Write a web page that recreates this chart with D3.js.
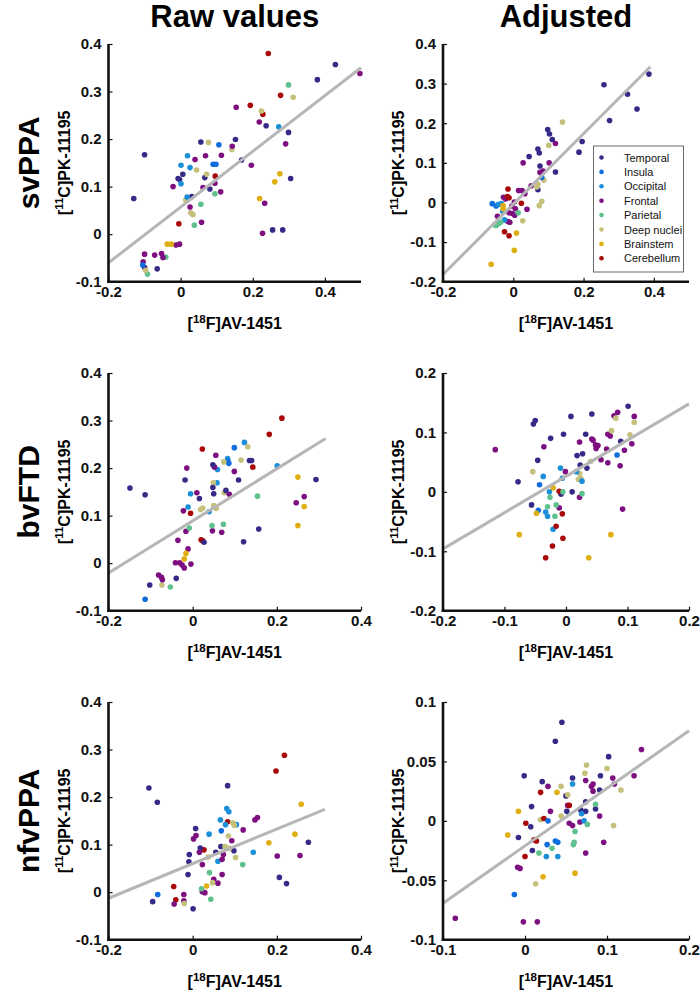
<!DOCTYPE html>
<html><head><meta charset="utf-8">
<script src="https://cdn.jsdelivr.net/npm/d3@7"></script>
<style>
html,body{margin:0;padding:0;background:#fff;}
svg{display:block;font-family:"Liberation Sans",Arial,Helvetica,sans-serif;}
</style></head>
<body>
<svg id="chart" width="700" height="996"></svg>
<script>
// ---------- data ----------
const regions = ["Temporal","Insula","Occipital","Frontal","Parietal","Deep nuclei","Brainstem","Cerebellum"];
const regionColors = ["#352a87","#0f6ddd","#1a8fd8","#7e0f80","#5fc18e","#c5c07a","#dfae10","#a80808"];
const rowLabels = ["svPPA","bvFTD","nfvPPA"];
const colTitles = ["Raw values","Adjusted"];
const xLabel = ["[","18","F]AV-1451"];
const yLabel = ["[","11","C]PK-11195"];

// domains & ticks per panel (svRaw, svAdj, bvRaw, bvAdj, nfRaw, nfAdj)
const xDomains = [[-0.2,0.5],[-0.2,0.5],[-0.2,0.4],[-0.2,0.2],[-0.2,0.4],[-0.1,0.2]];
const yDomains = [[-0.1,0.4],[-0.2,0.4],[-0.1,0.4],[-0.2,0.2],[-0.1,0.4],[-0.1,0.1]];
const xTickVals = [[-0.2,0,0.2,0.4],[-0.2,0,0.2,0.4],[-0.2,0,0.2,0.4],[-0.2,-0.1,0,0.1,0.2],[-0.2,0,0.2,0.4],[-0.1,0,0.1,0.2]];
const yTickVals = [[-0.1,0,0.1,0.2,0.3,0.4],[-0.2,-0.1,0,0.1,0.2,0.3,0.4],[-0.1,0,0.1,0.2,0.3,0.4],[-0.2,-0.1,0,0.1,0.2],[-0.1,0,0.1,0.2,0.3,0.4],[-0.1,-0.05,0,0.05,0.1]];
// regression lines: [intercept, slope, xStart, xEnd]
const fitLines = [[0.057,0.586,-0.2,0.5],[-0.004,0.889,-0.2,0.39],[0.089,0.548,-0.2,0.316],[0.026,0.61,-0.2,0.2],[0.060,0.364,-0.2,0.314],[-0.021,0.484,-0.1,0.2]];

// points: [regionIndex, x, y]
const svppaRaw = [
[7,0.243,0.380],[7,0.277,0.292],[7,0.193,0.271],[7,0.228,0.252],[7,0.096,0.122],[7,-0.005,0.022],
[0,0.429,0.357],[0,0.379,0.325],[0,0.237,0.228],[0,0.299,0.214],[0,0.056,0.194],[0,0.152,0.199],[0,-0.100,0.167],[0,0.169,0.156],[0,0.006,0.126],[0,-0.007,0.117],[0,-0.003,0.115],[0,0.067,0.119],[0,0.081,0.095],[0,0.305,0.117],[0,-0.130,0.075],[0,0.031,0.079],[0,0.255,0.009],[0,0.283,0.009],[0,-0.065,-0.073],[0,-0.100,-0.070],
[4,0.299,0.314],[4,0.095,0.085],[4,0.056,0.063],[4,0.038,0.019],[4,-0.041,-0.048],[4,-0.092,-0.084],
[5,0.312,0.288],[5,0.224,0.259],[5,0.077,0.193],[5,0.142,0.178],[5,0.044,0.135],[5,0.072,0.126],[5,0.014,0.072],[5,0.028,0.045],[5,0.034,0.041],[5,-0.097,-0.076],
[3,0.497,0.338],[3,0.154,0.267],[3,0.218,0.236],[3,0.291,0.190],[3,0.143,0.185],[3,0.040,0.157],[3,0.069,0.165],[3,0.113,0.166],[3,0.196,0.145],[3,-0.021,0.100],[3,0.062,0.098],[3,0.095,0.107],[3,0.111,0.089],[3,0.233,0.065],[3,0.026,0.057],[3,0.058,0.025],[3,0.227,0.002],[3,-0.013,-0.023],[3,-0.003,-0.021],[3,-0.100,-0.042],[3,-0.104,-0.058],[3,-0.072,-0.044],[3,-0.053,-0.041],[3,-0.049,-0.049],
[1,0.106,0.188],[1,0.090,0.147],[1,0.098,0.147],[1,-0.105,-0.065],
[2,0.272,0.226],[2,0.019,0.165],[2,0.001,0.145],[2,0.026,0.140],[2,0.001,0.106],[2,0.018,0.078],
[6,0.275,0.127],[6,0.261,0.110],[6,0.219,0.075],[6,-0.037,-0.021],[6,-0.026,-0.021]
];
const svppaAdj = [
[0,0.386,0.324],[0,0.258,0.297],[0,0.325,0.273],[0,0.352,0.236],[0,0.274,0.207],[0,0.098,0.184],[0,0.103,0.173],[0,0.111,0.159],[0,0.196,0.154],[0,0.187,0.127],[0,0.070,0.135],[0,0.074,0.125],[0,0.045,0.116],[0,0.076,0.092],[0,0.120,0.077],[0,0.070,0.032],
[5,0.140,0.203],[5,0.101,0.144],[5,0.087,0.056],[5,0.070,0.046],[5,0.067,0.039],[5,0.081,0.003],[5,0.074,-0.008],[5,0.027,-0.046],
[3,0.120,0.149],[3,0.028,0.100],[3,0.102,0.100],[3,0.076,0.076],[3,0.085,0.079],[3,0.051,0.042],[3,0.033,0.022],[3,0.015,0.030],[3,0.025,0.030],[3,-0.028,0.013],[3,-0.022,0.009],[3,0.003,0.001],[3,-0.004,-0.009],[3,0.006,-0.016],[3,0.039,-0.017],[3,-0.012,-0.026],[3,-0.003,-0.028],[3,0.004,-0.032],[3,-0.045,-0.035],[3,-0.015,-0.048],[3,-0.010,-0.050],
[1,0.081,0.063],[1,-0.060,-0.003],[1,-0.049,-0.009],
[2,-0.043,-0.005],[2,-0.034,-0.003],[2,-0.030,-0.023],[2,-0.025,-0.044],
[7,-0.015,0.034],[7,-0.017,0.015],[7,-0.012,0.012],[7,0.023,-0.002],[7,-0.025,-0.074],[7,-0.012,-0.084],
[6,-0.029,-0.008],[6,-0.029,-0.016],[6,0.009,-0.077],[6,0.003,-0.121],[6,-0.063,-0.156],
[4,0.014,-0.026],[4,-0.053,-0.056],[4,-0.049,-0.058],[4,-0.042,-0.054],[4,-0.036,-0.050]
];
const bvftdRaw = [
[7,0.212,0.305],[7,0.182,0.271],[7,0.023,0.240],[7,0.143,0.202],[7,-0.005,0.105],[7,0.020,0.049],[7,0.024,0.047],
[2,0.123,0.254],[2,0.083,0.220],[2,0.059,0.197],[2,0.201,0.205],[2,0.058,0.169],[2,-0.005,0.146],[2,-0.011,0.118],[2,0.039,0.108],
[1,0.099,0.243],[1,0.086,0.210],[1,0.084,0.214],[1,-0.113,-0.076],
[5,0.131,0.245],[5,0.074,0.213],[5,0.115,0.217],[5,0.049,0.169],[5,0.075,0.148],[5,0.019,0.113],[5,0.024,0.116],[5,0.050,0.121],[5,0.056,0.115],[5,-0.073,-0.046],
[3,0.055,0.227],[3,-0.014,0.200],[3,0.099,0.193],[3,0.052,0.202],[3,0.087,0.145],[3,0.010,0.148],[3,0.265,0.140],[3,0.246,0.127],[3,-0.022,0.110],[3,0.047,0.068],[3,0.069,0.065],[3,-0.016,0.067],[3,-0.035,0.048],[3,-0.011,0.030],[3,-0.041,0.001],[3,-0.031,0.001],[3,-0.025,-0.004],[3,-0.020,-0.010],[3,-0.004,-0.002],[3,-0.081,-0.025],[3,-0.074,-0.030],[3,-0.072,-0.035],
[0,0.135,0.216],[0,0.140,0.216],[0,0.048,0.207],[0,0.109,0.175],[0,-0.018,0.175],[0,0.048,0.159],[0,0.050,0.146],[0,0.079,0.153],[0,0.016,0.136],[0,-0.113,0.144],[0,-0.149,0.158],[0,0.293,0.176],[0,0.157,0.072],[0,0.121,0.045],[0,0.027,0.044],[0,-0.039,-0.032],[0,-0.102,-0.046],
[6,0.250,0.181],[6,0.265,0.119],[6,0.250,0.079],[6,-0.016,0.021],[6,-0.020,0.009],
[4,0.154,0.141],[4,0.046,0.079],[4,0.073,0.082],[4,-0.008,0.074],[4,-0.053,-0.050]
];
const bvftdAdj = [
[0,0.101,0.144],[0,-0.050,0.120],[0,-0.053,0.114],[0,0.008,0.127],[0,0.042,0.131],[0,-0.025,0.090],[0,-0.004,0.097],[0,0.032,0.097],[0,0.089,0.085],[0,0.018,0.061],[0,0.027,0.064],[0,-0.046,0.053],[0,0.023,0.045],[0,0.034,0.040],[0,-0.078,0.017],[0,-0.008,-0.004],[0,0.010,0.000],[0,-0.056,-0.022],
[3,0.084,0.134],[3,0.078,0.128],[3,0.111,0.127],[3,0.068,0.097],[3,0.072,0.094],[3,0.042,0.089],[3,0.044,0.087],[3,0.107,0.081],[3,0.022,0.084],[3,0.048,0.079],[3,0.052,0.078],[3,0.049,0.073],[3,-0.036,0.076],[3,-0.115,0.071],[3,0.066,0.072],[3,0.095,0.070],[3,0.057,0.054],[3,0.068,0.049],[3,0.088,0.044],[3,-0.001,0.034],[3,0.022,-0.009],[3,-0.011,-0.027],[3,0.092,-0.029],
[5,0.081,0.124],[5,0.111,0.117],[5,0.074,0.103],[5,0.104,0.096],[5,0.040,0.051],[5,-0.054,0.034],[5,0.022,0.031],[5,0.024,0.023],[5,0.020,0.021],
[1,0.083,0.062],[1,-0.043,0.012],[1,-0.045,-0.031],
[2,-0.009,0.040],[2,0.017,0.034],[2,-0.037,0.026],[2,-0.006,0.023],[2,0.026,0.018],[2,-0.027,0.000],[2,-0.033,-0.034],[2,-0.030,-0.041],[2,-0.021,-0.063],
[6,-0.021,0.007],[6,-0.048,-0.036],[6,-0.076,-0.072],[6,0.073,-0.072],[6,0.037,-0.111],
[7,-0.011,0.001],[7,-0.006,-0.037],[7,-0.016,-0.058],[7,-0.005,-0.078],[7,-0.022,-0.091],[7,-0.033,-0.111],
[4,-0.005,0.000],[4,0.026,-0.003],[4,-0.026,-0.009],[4,-0.030,-0.025],[4,-0.016,-0.022],[4,-0.018,-0.041]
];
const nfvppaRaw = [
[7,0.218,0.288],[7,0.198,0.255],[7,0.083,0.148],[7,0.027,0.089],[7,-0.045,0.012],[7,-0.040,-0.016],
[0,-0.104,0.219],[0,-0.084,0.189],[0,0.083,0.224],[0,0.007,0.134],[0,0.275,0.105],[0,0.098,0.087],[0,0.067,0.096],[0,0.018,0.093],[0,0.055,0.084],[0,-0.008,0.079],[0,-0.009,0.064],[0,-0.011,0.037],[0,0.206,0.031],[0,0.223,0.018],[0,0.001,-0.035],[0,-0.095,-0.020],
[2,0.081,0.176],[2,0.086,0.169],[2,0.066,0.152],[2,0.078,0.142],[2,0.104,0.142],[2,0.039,0.122],[2,0.144,0.084],[2,0.060,0.065],
[6,0.258,0.185],[6,0.243,0.122],[6,0.181,0.104],[6,0.033,0.013],
[3,0.148,0.152],[3,0.154,0.157],[3,0.120,0.131],[3,0.008,0.119],[3,0.002,0.112],[3,0.093,0.108],[3,0.016,0.084],[3,0.201,0.076],[3,0.255,0.077],[3,0.070,0.069],[3,0.073,0.079],[3,0.023,0.058],[3,0.070,0.037],[3,0.050,0.027],[3,0.060,0.019],[3,0.023,0.001],[3,0.029,-0.001],[3,-0.021,-0.005],[3,-0.021,-0.018],[3,-0.044,-0.025],
[1,0.068,0.129],[1,-0.083,-0.005],
[5,0.095,0.146],[5,0.099,0.141],[5,0.085,0.118],[5,0.077,0.096],[5,0.087,0.092],[5,0.102,0.073],[5,0.037,0.074],[5,0.047,0.020],[5,-0.020,-0.024],
[4,0.119,0.058],[4,0.040,0.041],[4,0.021,0.007],[4,0.043,-0.015]
];
const nfvppaAdj = [
[0,0.045,0.083],[0,0.037,0.067],[0,0.102,0.054],[0,-0.001,0.038],[0,0.058,0.036],[0,0.092,0.038],[0,0.021,0.033],[0,0.091,0.026],[0,0.050,0.021],[0,0.074,0.016],[0,0.008,0.012],[0,0.086,0.010],[0,0.051,0.008],[0,0.068,0.009],[0,0.074,0.008],[0,0.007,-0.005],[0,-0.008,-0.014],[0,0.009,-0.025],
[3,0.142,0.060],[3,0.133,0.038],[3,0.107,0.036],[3,0.074,0.034],[3,0.109,0.031],[3,0.028,0.029],[3,0.083,0.031],[3,0.081,0.029],[3,0.083,0.025],[3,0.052,0.013],[3,0.031,0.008],[3,0.091,0.004],[3,0.054,-0.002],[3,0.058,-0.004],[3,0.067,-0.001],[3,0.096,-0.018],[3,0.074,-0.027],[3,-0.009,-0.039],[3,-0.006,-0.040],[3,-0.085,-0.082],[3,-0.002,-0.085],[3,0.015,-0.085],
[5,0.075,0.047],[5,0.100,0.044],[5,0.073,0.040],[5,0.044,0.029],[5,0.052,0.022],[5,0.117,0.026],[5,0.019,0.001],[5,0.044,0.004],[5,0.108,-0.004],[5,0.013,-0.053],
[2,0.058,0.031],[2,0.069,0.006],[2,0.072,0.000],[2,0.026,-0.030],[2,0.040,-0.030],
[7,0.019,0.024],[7,0.054,0.013],[7,0.001,-0.002],[7,0.023,0.002],[7,0.011,-0.016],[7,0.014,-0.017],[7,0.000,-0.030],
[6,0.039,0.024],[6,-0.008,0.008],[6,-0.021,-0.012],[6,0.022,-0.047],[6,0.061,-0.044],
[4,0.086,0.014],[4,0.076,-0.003],[4,0.061,-0.009],[4,0.060,-0.018],[4,0.059,-0.020],[4,0.033,-0.023],[4,0.017,-0.027],
[1,0.028,0.000],[1,0.037,-0.017],[1,0.040,-0.018],[1,0.027,-0.020],[1,-0.013,-0.062]
];
const panelData = [svppaRaw, svppaAdj, bvftdRaw, bvftdAdj, nfvppaRaw, nfvppaAdj];

// ---------- layout ----------
const colX = [[108.5,361],[443,689]];
const rowY = [[44,281.7],[373,610.7],[702,939.7]];
const svg = d3.select("#chart");
const FONT = '"Liberation Sans",Arial,Helvetica,sans-serif';

function fmt(v){ if (Math.abs(v) < 1e-9) return "0"; return String(+v.toFixed(2)); }

colTitles.forEach((t,c)=>{
  svg.append("text").attr("x",(colX[c][0]+colX[c][1])/2).attr("y",27)
    .attr("text-anchor","middle").attr("font-size",31).attr("font-weight","bold").text(t);
});
rowLabels.forEach((t,r)=>{
  const cy=(rowY[r][0]+rowY[r][1])/2;
  svg.append("text").attr("transform",`translate(39,${cy}) rotate(-90)`)
    .attr("text-anchor","middle").attr("font-size",30).attr("font-weight","bold").text(t);
});

function supText(sel, parts, fs){
  sel.append("tspan").text(parts[0]);
  sel.append("tspan").attr("font-size",fs*0.72).attr("dy",-fs*0.38).text(parts[1]);
  sel.append("tspan").attr("dy",fs*0.38).text(parts[2]);
}

panelData.forEach((pts,i)=>{
  const r=Math.floor(i/2), c=i%2;
  const [x0,x1]=colX[c], [y0,y1]=rowY[r];
  const xs=d3.scaleLinear().domain(xDomains[i]).range([x0,x1]);
  const ys=d3.scaleLinear().domain(yDomains[i]).range([y1,y0]);
  const g=svg.append("g");

  g.selectAll("circle").data(pts).enter().append("circle")
    .attr("cx",d=>xs(d[1])).attr("cy",d=>ys(d[2])).attr("r",2.8)
    .attr("fill",d=>regionColors[d[0]]);

  const [b0,b1,xa,xb]=fitLines[i];
  g.append("line").attr("x1",xs(xa)).attr("y1",ys(b0+b1*xa)).attr("x2",xs(xb)).attr("y2",ys(b0+b1*xb))
    .attr("stroke","#b6b6b6").attr("stroke-width",3);

  const xAxis=d3.axisBottom(xs).tickValues(xTickVals[i]).tickFormat(fmt).tickSizeInner(-4).tickSizeOuter(0).tickPadding(5);
  const yAxis=d3.axisLeft(ys).tickValues(yTickVals[i]).tickFormat(fmt).tickSizeInner(-4).tickSizeOuter(0).tickPadding(7);
  const gx=g.append("g").attr("transform",`translate(0,${y1})`).call(xAxis);
  const gy=g.append("g").attr("transform",`translate(${x0},0)`).call(yAxis);
  [gx,gy].forEach(a=>{
    a.select(".domain").attr("stroke","#111").attr("stroke-width",2.6);
    a.selectAll(".tick line").attr("stroke","#111").attr("stroke-width",1.2);
    a.selectAll(".tick text").attr("font-size",15).attr("font-weight","bold").attr("fill","#111").attr("font-family",FONT);
  });
  gx.select(".domain").attr("d",`M${x0-1.3},0H${x1}`);
  gy.select(".domain").attr("d",`M0,${y1+1.3}V${y0}`);

  const xl=g.append("text").attr("x",(x0+x1)/2).attr("y",y1+47).attr("text-anchor","middle")
    .attr("font-size",16).attr("font-weight","bold");
  supText(xl,xLabel,16);
  const yl=g.append("text").attr("transform",`translate(${x0-39},${(y0+y1)/2}) rotate(-90)`).attr("text-anchor","middle")
    .attr("font-size",16).attr("font-weight","bold");
  supText(yl,yLabel,16);
});

const lg=svg.append("g");
lg.append("rect").attr("x",593.5).attr("y",146).attr("width",90).attr("height",126)
  .attr("fill","#fff").attr("stroke","#444").attr("stroke-width",0.8);
regions.forEach((name,k)=>{
  const yy=157.5+k*14.4;
  lg.append("circle").attr("cx",601.5).attr("cy",yy).attr("r",2.3).attr("fill",regionColors[k]);
  lg.append("text").attr("x",624).attr("y",yy+4).attr("font-size",11).attr("fill","#111").text(name);
});
</script>
</body></html>
